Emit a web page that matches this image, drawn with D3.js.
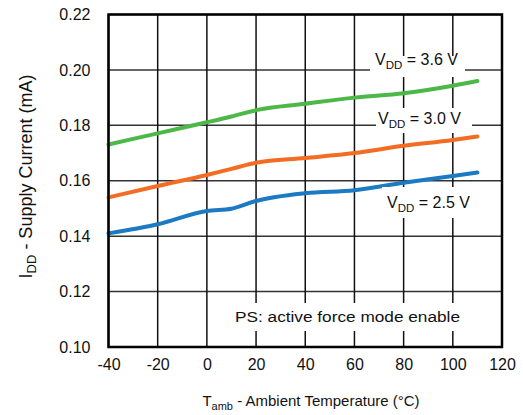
<!DOCTYPE html>
<html>
    <head>
        <style>
body { margin: 0; background: #fff; }
svg text { font-family: "Liberation Sans", Arial, sans-serif; fill: #111; }
        </style>
    </head>
    <body>
        <div id="chart"></div>
        <script src="https://d3js.org/d3.v7.min.js"></script>
        <script>
// data
const temps = [-40, -20, 0, 10, 20, 40, 60, 80, 100, 110]
const vdd36 = [0.1731, 0.1771, 0.1811, 0.1832, 0.1855, 0.1878, 0.1900, 0.1916, 0.1943, 0.1960]
const vdd30 = [0.1540, 0.1581, 0.1621, 0.1643, 0.1665, 0.1682, 0.1700, 0.1726, 0.1747, 0.1760]
const vdd25 = [0.1410, 0.1443, 0.1491, 0.1499, 0.1527, 0.1555, 0.1566, 0.1593, 0.1617, 0.1630]
const xTicks = [-40, -20, 0, 20, 40, 60, 80, 100, 120]
const yTicks = [0.10, 0.12, 0.14, 0.16, 0.18, 0.20, 0.22]

const series = [
    {name: "3.6", values: vdd36, color: "#4cb848"},
    {name: "3.0", values: vdd30, color: "#f26c23"},
    {name: "2.5", values: vdd25, color: "#1b7ac2"}
]

const W = 523, H = 415
const margin = {top: 14.5, right: 21, bottom: 68, left: 108.5}
const width = W - margin.left - margin.right
const height = H - margin.top - margin.bottom

const x = d3.scaleLinear().domain([-40, 120]).range([0, width])
const y = d3.scaleLinear().domain([0.10, 0.22]).range([height, 0])

const svg = d3.select("#chart").append("svg")
    .attr("width", W)
    .attr("height", H)
const g = svg.append("g")
    .attr("transform", "translate(" + margin.left + "," + margin.top + ")")

// grid
g.append("g")
    .selectAll("line")
    .data(yTicks)
    .join("line")
    .attr("x1", 0).attr("x2", width)
    .attr("y1", d => y(d)).attr("y2", d => y(d))
    .attr("stroke", "#333").attr("stroke-width", 1.5)
g.append("g")
    .selectAll("line")
    .data(xTicks)
    .join("line")
    .attr("y1", 0).attr("y2", height)
    .attr("x1", d => x(d)).attr("x2", d => x(d))
    .attr("stroke", "#111").attr("stroke-width", 1.5)

// axes (labels only)
const xAxis = g.append("g")
    .attr("transform", "translate(0," + height + ")")
    .call(d3.axisBottom(x).tickValues(xTicks).tickFormat(d => String(d)).tickSize(0).tickPadding(12))
xAxis.select(".domain").remove()
xAxis.selectAll("text").style("font-size", "16px").attr("dy", "0.71em")

const yAxis = g.append("g")
    .call(d3.axisLeft(y).tickValues(yTicks).tickFormat(d3.format(".2f")).tickSize(0).tickPadding(18))
yAxis.select(".domain").remove()
yAxis.selectAll("text").style("font-size", "16px")

// white label boxes covering grid
const labels = [
    {t: "3.6", x0: 370, x1: 465, y0: 56, y1: 77, bx: 375, by: 65},
    {t: "3.0", x0: 376, x1: 472, y0: 108, y1: 133, bx: 378, by: 124},
    {t: "2.5", x0: 382, x1: 476, y0: 187, y1: 218, bx: 387, by: 208}
]
labels.forEach(l => {
    svg.append("rect")
        .attr("x", l.x0).attr("y", l.y0)
        .attr("width", l.x1 - l.x0).attr("height", l.y1 - l.y0)
        .attr("fill", "#fff")
    const t = svg.append("text")
        .attr("x", l.bx).attr("y", l.by)
        .style("font-size", "16px")
    t.append("tspan").text("V")
    t.append("tspan").text("DD").attr("dy", 4).style("font-size", "11.5px")
    t.append("tspan").text(" = " + l.t + " V").attr("dy", -4)
})

svg.append("rect")
    .attr("x", 228).attr("y", 303)
    .attr("width", 238).attr("height", 28)
    .attr("fill", "#fff")
svg.append("text")
    .attr("x", 235).attr("y", 322)
    .attr("textLength", 225).attr("lengthAdjust", "spacingAndGlyphs")
    .style("font-size", "15.5px")
    .text("PS: active force mode enable")

// curves
const line = d3.line()
    .x((d, i) => x(temps[i]))
    .y(d => y(d))
    .curve(d3.curveMonotoneX)

g.selectAll(".curve")
    .data(series)
    .join("path")
    .attr("class", "curve")
    .attr("d", d => line(d.values))
    .attr("fill", "none")
    .attr("stroke", d => d.color)
    .attr("stroke-width", 4)
    .attr("stroke-linecap", "round")

// frame
g.append("rect")
    .attr("width", width).attr("height", height)
    .attr("fill", "none")
    .attr("stroke", "#000").attr("stroke-width", 2.5)

// axis titles
const xt = svg.append("text")
    .attr("x", 311).attr("y", 406)
    .attr("text-anchor", "middle")
    .style("font-size", "15px")
xt.append("tspan").text("T")
xt.append("tspan").text("amb").attr("dy", 4).style("font-size", "11px")
xt.append("tspan").text(" - Ambient Temperature (°C)").attr("dy", -4)

const yt = svg.append("text")
    .attr("transform", "translate(32,176.5) rotate(-90)")
    .attr("text-anchor", "middle")
    .style("font-size", "18px")
yt.append("tspan").text("I")
yt.append("tspan").text("DD").attr("dy", 4).style("font-size", "13px")
yt.append("tspan").text(" - Supply Current (mA)").attr("dy", -4)
        </script>
    </body>
</html>
